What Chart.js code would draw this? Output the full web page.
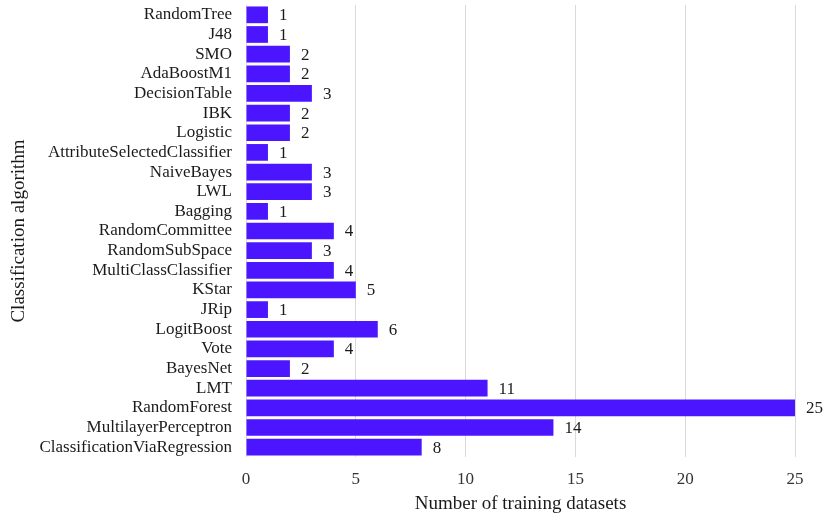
<!DOCTYPE html>
<html>
<head>
<meta charset="utf-8">
<script src="https://cdn.jsdelivr.net/npm/chart.js@4"></script>
<style>
  html, body { margin: 0; padding: 0; background: #fff; }
  #wrap { width: 830px; height: 527px; position: relative; }
</style>
</head>
<body>
<div id="wrap"><canvas id="chart"></canvas></div>
<script>
const algorithms = [
  "RandomTree", "J48", "SMO", "AdaBoostM1", "DecisionTable", "IBK", "Logistic",
  "AttributeSelectedClassifier", "NaiveBayes", "LWL", "Bagging", "RandomCommittee",
  "RandomSubSpace", "MultiClassClassifier", "KStar", "JRip", "LogitBoost", "Vote",
  "BayesNet", "LMT", "RandomForest", "MultilayerPerceptron", "ClassificationViaRegression"
];
const datasetCounts = [1, 1, 2, 2, 3, 2, 2, 1, 3, 3, 1, 4, 3, 4, 5, 1, 6, 4, 2, 11, 25, 14, 8];
const xTicks = [0, 5, 10, 15, 20, 25];

const FONT = "'Liberation Serif', 'Times New Roman', serif";
const BAR_COLOR = "#4b16ff";

// valeurs au bout des barres
const valueLabels = {
  id: "valueLabels",
  afterDatasetsDraw(chart) {
    const ctx = chart.ctx;
    const meta = chart.getDatasetMeta(0);
    ctx.save();
    ctx.font = "17px " + FONT;
    ctx.fillStyle = "#1a1a1a";
    ctx.textAlign = "left";
    ctx.textBaseline = "middle";
    meta.data.forEach((bar, i) => {
      ctx.fillText(String(datasetCounts[i]), bar.x + 11, bar.y + 1);
    });
    ctx.restore();
  }
};

new Chart(document.getElementById("chart"), {
  type: "bar",
  data: {
    labels: algorithms,
    datasets: [{
      data: datasetCounts,
      backgroundColor: BAR_COLOR,
      borderWidth: 0,
      barPercentage: 0.85,
      categoryPercentage: 1
    }]
  },
  options: {
    indexAxis: "y",
    responsive: true,
    maintainAspectRatio: false,
    animation: false,
    layout: { padding: { top: 5, right: 35, bottom: 0, left: 0 } },
    plugins: { legend: { display: false }, tooltip: { enabled: false } },
    scales: {
      x: {
        min: 0,
        max: 25,
        afterBuildTicks: axis => { axis.ticks = xTicks.map(v => ({ value: v })); },
        grid: { color: "#d9d9d9", lineWidth: 1, drawTicks: false },
        border: { display: false },
        ticks: { font: { family: FONT, size: 17 }, color: "#333", padding: 12 },
        title: {
          display: true,
          text: "Number of training datasets",
          font: { family: FONT, size: 19 },
          color: "#1a1a1a",
          padding: { top: 4, bottom: 12 }
        },
        afterFit: axis => { axis.height = 70; }
      },
      y: {
        grid: { display: false, drawTicks: false },
        border: { display: false },
        ticks: { font: { family: FONT, size: 17 }, color: "#1a1a1a", padding: 14, autoSkip: false },
        title: {
          display: true,
          text: "Classification algorithm",
          font: { family: FONT, size: 19 },
          color: "#1a1a1a",
          padding: { top: 8, bottom: 4 }
        },
        afterFit: axis => {
          axis.width = 246;
          axis.paddingTop = 0;
          axis.paddingBottom = 0;
        }
      }
    }
  },
  plugins: [valueLabels]
});
</script>
</body>
</html>
